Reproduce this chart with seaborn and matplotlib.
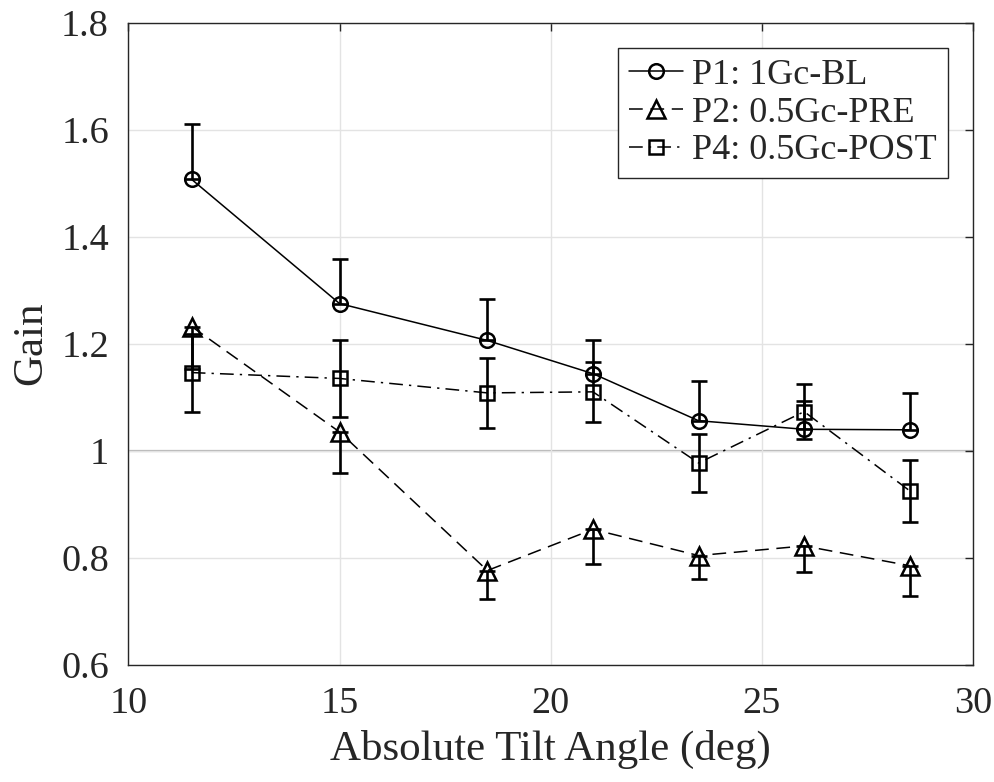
import numpy as np
import pandas as pd
import seaborn as sns
import matplotlib.pyplot as plt

# data
angles = [11.5, 15, 18.5, 21, 23.5, 26, 28.5]

p1_gain = [1.507, 1.275, 1.206, 1.144, 1.056, 1.040, 1.039]
p1_err_up = [0.104, 0.084, 0.078, 0.062, 0.075, 0.053, 0.068]

p2_gain = [1.232, 1.035, 0.776, 0.853, 0.804, 0.822, 0.785]
p2_err_down = [0.080, 0.076, 0.054, 0.065, 0.043, 0.048, 0.056]

p4_gain = [1.146, 1.135, 1.108, 1.110, 0.977, 1.073, 0.925]
p4_err = [0.073, 0.072, 0.065, 0.056, 0.055, 0.052, 0.058]

labels = ["P1: 1Gc-BL", "P2: 0.5Gc-PRE", "P4: 0.5Gc-POST"]

sns.set_theme(style="white")
plt.rcParams["font.family"] = ["Liberation Serif", "DejaVu Serif"]

fig = plt.figure(figsize=(9.95, 7.82), dpi=100)
ax = fig.add_axes([0.129, 0.150, 0.849, 0.821])

ax.axhline(1.0, color="#b4b4b4", lw=1.6, zorder=0)

zeros = np.zeros(len(angles))
ekw = dict(fmt="none", ecolor="black", elinewidth=1.9, capsize=6, capthick=1.9, zorder=3)
ax.errorbar(angles, p1_gain, yerr=[zeros, p1_err_up], **ekw)
ax.errorbar(angles, p2_gain, yerr=[p2_err_down, zeros], **ekw)
ax.errorbar(angles, p4_gain, yerr=[p4_err, p4_err], **ekw)

mkw = dict(color="black", lw=1.1, mfc="none", mec="black", mew=1.8, zorder=4)
sns.lineplot(x=angles, y=p1_gain, ax=ax, marker="o", markersize=10.5, label=labels[0], **mkw)
sns.lineplot(x=angles, y=p2_gain, ax=ax, marker="^", markersize=12.5, label=labels[1], **mkw)
sns.lineplot(x=angles, y=p4_gain, ax=ax, marker="s", markersize=10, label=labels[2], **mkw)

lines = ax.get_lines()
lines[-2].set_dashes([9, 5])
lines[-1].set_dashes([9, 4, 1.5, 4])

ax.set_xlim(10, 30)
ax.set_ylim(0.6, 1.8)
ax.set_xticks([10, 15, 20, 25, 30])
ax.set_yticks([0.6, 0.8, 1.0, 1.2, 1.4, 1.6, 1.8])
ax.set_yticklabels(["0.6", "0.8", "1", "1.2", "1.4", "1.6", "1.8"])
ax.grid(True, color="#e3e3e3", lw=1.0)
ax.set_axisbelow(True)

for s in ax.spines.values():
    s.set_color("#262626")
    s.set_linewidth(1.0)
ax.tick_params(direction="in", length=6, width=1.0, top=True, right=True,
               colors="#262626", labelsize=27.5)
ax.tick_params(axis="y", pad=14)
ax.tick_params(axis="x", pad=16)
ax.set_xlabel("Absolute Tilt Angle (deg)", fontsize=31, color="#262626", labelpad=6)
ax.set_ylabel("Gain", fontsize=31, color="#262626", labelpad=8)

leg = ax.legend(loc="upper right", bbox_to_anchor=(1.0, 1.0), fontsize=26,
                frameon=True, fancybox=False, handlelength=1.5, handletextpad=0.25,
                labelspacing=0.12, borderpad=0.3, borderaxespad=0.7)
leg.get_frame().set_edgecolor("#262626")
leg.get_frame().set_linewidth(1.0)
leg.get_frame().set_alpha(1.0)

plt.savefig("out.png", dpi=100)
